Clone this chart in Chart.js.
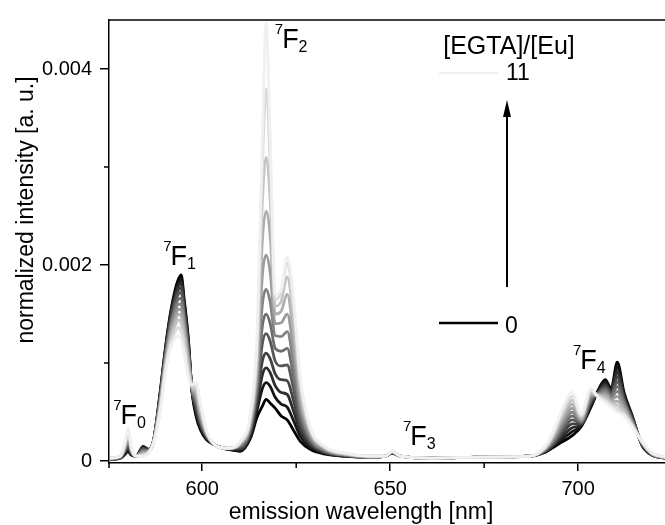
<!DOCTYPE html>
<html>
<head>
<meta charset="utf-8">
<script src="https://cdn.jsdelivr.net/npm/chart.js@4.4.0/dist/chart.umd.min.js"></script>
<style>
  html, body { margin: 0; padding: 0; background: #fff; }
</style>
</head>
<body>
<canvas id="myChart" width="665" height="525"></canvas>
<script>
// emission wavelength [nm]
var wavelength = [575.5, 578.2, 579.5, 580.3, 581.1, 582.4, 584.3, 585.6, 587.0, 588.8,
  590.2, 591.5, 592.8, 593.6, 594.4, 595.2, 596.3, 597.3, 598.4, 599.5,
  601.1, 603.5, 606.9, 610.1, 612.8, 614.6, 616.0, 617.0, 618.1, 619.4,
  621.0, 622.6, 624.2, 626.1, 628.7, 632.7, 638.0, 644.7, 648.7, 650.5,
  652.7, 660.6, 673.9, 687.2, 691.2, 693.4, 696.0, 698.4, 700.8, 703.4,
  705.3, 707.2, 708.8, 710.4, 712.2, 714.4, 717.0, 719.7, 723.2];

// normalized intensity, in units of 1e-4 a.u., one list for each [EGTA]/[Eu]
var ratio0 = [0.2,0.3,0.7,1.0,0.6,0.5,1.5,1.2,2.0,7.0, 11.5,15.0,17.5,18.5,19.0,16.5,12.5,7.0,4.5,3.2,
  2.2,1.6,1.2,1.0,2.3,4.5,5.6,6.3,5.9,5.4, 4.6,4.2,3.2,2.0,1.2,0.7,0.5,0.4,0.5,0.8,
  0.5,0.3,0.4,0.5,0.9,1.4,2.0,2.6,3.5,5.5, 7.2,8.3,7.4,10.1,7.0,4.6,1.6,0.6,0.3];
var ratio1 = [0.2,0.3,0.8,1.2,0.7,0.5,1.4,1.2,2.0,6.9, 11.4,14.8,17.2,18.1,18.6,16.2,12.3,7.1,4.8,3.4,
  2.3,1.6,1.2,1.1,2.5,5.2,7.4,8.0,7.6,6.5, 5.8,5.5,4.2,2.5,1.4,0.8,0.5,0.4,0.5,0.8,
  0.5,0.3,0.4,0.5,0.9,1.5,2.3,3.0,3.6,5.7, 7.1,8.1,7.3,9.6,6.8,4.5,1.6,0.6,0.3];
var ratio2 = [0.2,0.3,0.9,1.4,0.7,0.5,1.4,1.1,2.0,6.8, 11.2,14.6,16.9,17.8,18.2,15.8,12.0,7.1,5.1,3.6,
  2.4,1.6,1.2,1.2,2.7,5.8,8.8,9.5,9.0,7.7, 7.0,6.8,5.2,3.0,1.6,0.8,0.5,0.4,0.5,0.8,
  0.5,0.3,0.4,0.5,1.0,1.6,2.6,3.4,3.7,5.8, 7.0,7.9,7.1,9.1,6.6,4.4,1.7,0.6,0.3];
var ratio3 = [0.2,0.3,1.0,1.6,0.8,0.5,1.3,1.1,2.0,6.6, 11.0,14.3,16.5,17.4,17.7,15.4,11.7,7.2,5.4,3.8,
  2.5,1.6,1.3,1.3,2.9,6.4,10.2,11.0,10.4,8.9, 8.3,8.2,6.3,3.5,1.8,0.9,0.6,0.4,0.5,0.8,
  0.5,0.3,0.4,0.5,1.0,1.7,2.9,3.8,3.8,6.0, 7.0,7.7,7.0,8.6,6.4,4.3,1.7,0.6,0.3];
var ratio4 = [0.2,0.4,1.1,1.8,0.9,0.5,1.2,1.1,2.0,6.5, 10.8,14.0,16.1,17.0,17.2,15.0,11.4,7.2,5.7,4.0,
  2.6,1.6,1.3,1.4,3.1,7.0,12.0,13.0,12.2,10.2, 9.7,9.8,7.5,4.1,2.0,1.0,0.6,0.4,0.5,0.9,
  0.5,0.3,0.4,0.5,1.1,1.8,3.2,4.2,3.9,6.2, 6.9,7.5,6.8,8.1,6.2,4.2,1.8,0.7,0.3];
var ratio5 = [0.2,0.4,1.2,2.0,1.0,0.5,1.1,1.0,1.9,6.3, 10.6,13.7,15.7,16.5,16.6,14.6,11.1,7.3,6.0,4.2,
  2.6,1.6,1.3,1.5,3.3,7.6,13.8,15.0,14.0,11.5, 11.2,11.5,8.8,4.7,2.2,1.0,0.6,0.4,0.5,0.9,
  0.5,0.3,0.4,0.5,1.1,2.0,3.5,4.6,4.0,6.3, 6.9,7.3,6.7,7.6,6.0,4.1,1.8,0.7,0.3];
var ratio6 = [0.3,0.4,1.3,2.2,1.0,0.5,1.0,1.0,1.9,6.1, 10.4,13.4,15.3,16.0,16.0,14.2,10.8,7.4,6.3,4.4,
  2.7,1.6,1.3,1.6,3.5,8.3,16.0,17.5,16.2,12.8, 12.7,13.2,10.2,5.3,2.4,1.1,0.6,0.4,0.5,0.9,
  0.5,0.3,0.4,0.5,1.2,2.1,3.8,5.0,4.1,6.5, 6.8,7.1,6.5,7.1,5.8,4.0,1.8,0.7,0.3];
var ratio7 = [0.3,0.4,1.4,2.4,1.1,0.5,0.9,1.0,1.9,5.9, 10.1,13.1,14.8,15.5,15.4,13.7,10.4,7.4,6.6,4.7,
  2.8,1.6,1.3,1.7,3.7,9.0,19.0,21.0,19.2,14.0, 14.1,15.0,11.6,5.9,2.7,1.2,0.7,0.4,0.5,0.9,
  0.5,0.3,0.4,0.5,1.2,2.3,4.1,5.4,4.2,6.7, 6.8,6.9,6.3,6.6,5.5,3.9,1.9,0.7,0.3];
var ratio8 = [0.3,0.5,1.6,2.7,1.2,0.5,0.8,0.9,1.9,5.7, 9.9,12.7,14.3,15.0,14.8,13.1,10.0,7.5,6.9,5.0,
  2.9,1.6,1.3,1.8,4.0,9.8,22.5,25.5,22.8,15.0, 15.3,17.0,13.2,6.6,2.9,1.3,0.7,0.5,0.5,1.0,
  0.5,0.3,0.4,0.5,1.3,2.5,4.5,5.8,4.3,6.8, 6.7,6.7,6.1,6.1,5.3,3.8,1.9,0.7,0.4];
var ratio9 = [0.3,0.5,1.7,2.9,1.3,0.5,0.7,0.9,1.8,5.5, 9.6,12.3,13.8,14.4,14.1,12.5,9.5,7.6,7.2,5.3,
  3.0,1.6,1.3,1.8,4.2,10.8,26.5,31.0,26.5,15.8, 16.3,18.8,14.8,7.3,3.1,1.3,0.7,0.5,0.5,1.0,
  0.5,0.3,0.4,0.5,1.3,2.6,4.8,6.2,4.5,7.0, 6.7,6.4,5.9,5.7,5.0,3.7,1.9,0.8,0.4];
var ratio10 = [0.3,0.5,1.8,3.1,1.4,0.5,0.6,0.8,1.8,5.2, 9.3,11.9,13.2,13.6,13.3,11.8,9.0,7.7,7.6,5.6,
  3.1,1.6,1.3,1.9,4.5,11.8,30.0,38.0,30.0,16.5, 17.2,20.2,16.2,8.0,3.3,1.4,0.8,0.5,0.5,1.0,
  0.5,0.3,0.4,0.5,1.4,2.8,5.2,6.6,4.6,7.2, 6.6,6.2,5.7,5.3,4.8,3.6,2.0,0.8,0.4];
var ratio11 = [0.3,0.5,2.0,3.4,1.5,0.5,0.5,0.8,1.8,5.0, 9.0,11.5,12.5,12.8,12.4,11.0,8.5,7.8,8.0,6.0,
  3.2,1.6,1.3,2.0,4.8,13.0,33.0,44.7,33.0,17.0, 17.5,20.8,17.0,8.5,3.5,1.5,0.8,0.5,0.5,1.0,
  0.5,0.3,0.4,0.5,1.5,3.0,5.5,7.0,4.8,7.4, 6.5,6.0,5.5,5.0,4.6,3.5,2.0,0.8,0.4];

var ratioNames = ['0', '1', '2', '3', '4', '5', '6', '7', '8', '9', '10', '11'];
var spectra = [ratio0, ratio1, ratio2, ratio3, ratio4, ratio5, ratio6, ratio7, ratio8, ratio9, ratio10, ratio11];

// axis ticks
var xTicks = [600, 650, 700];
var xMinorTicks = [625, 675];
var yTicks = [0, 20, 40];
var yTickLabels = ['0', '0.002', '0.004'];
var yMinorTicks = [10, 30];

// 7F_J band labels (J, wavelength, intensity of label baseline)
var bandJ = ['0', '1', '2', '3', '4'];
var bandX = [576.3, 589.6, 619.3, 653.4, 698.6];
var bandY = [3.8, 20.0, 42.1, 1.6, 9.35];

var FONT = '"Liberation Sans", Arial, sans-serif';

function grayFor(k) {
  var g = Math.round(k * 21.8);
  return 'rgb(' + g + ',' + g + ',' + g + ')';
}

var datasets = [];
for (var k = 0; k < spectra.length; k++) {
  var pts = [];
  for (var i = 0; i < wavelength.length; i++) {
    pts.push({ x: wavelength[i], y: spectra[k][i] });
  }
  datasets.push({
    label: ratioNames[k],
    data: pts,
    borderColor: grayFor(k),
    borderWidth: 2.8,
    pointRadius: 0,
    fill: false,
    cubicInterpolationMode: 'monotone',
    order: spectra.length - 1 - k   // lightest drawn on top
  });
}

// extra drawing: frame top, minor ticks, titles, band labels, legend
var decor = {
  id: 'decor',
  afterDraw: function(chart) {
    var ctx = chart.ctx;
    var a = chart.chartArea;
    var xs = chart.scales.x, ys = chart.scales.y;
    ctx.save();
    ctx.strokeStyle = '#000';
    ctx.fillStyle = '#000';
    ctx.lineWidth = 1.5;

    // top frame line
    ctx.beginPath();
    ctx.moveTo(a.left, a.top);
    ctx.lineTo(a.right, a.top);
    ctx.stroke();

    // minor ticks
    ctx.beginPath();
    xMinorTicks.forEach(function(v) {
      var px = xs.getPixelForValue(v);
      ctx.moveTo(px, a.bottom);
      ctx.lineTo(px, a.bottom + 5);
    });
    ctx.moveTo(a.left, a.bottom);
    ctx.lineTo(a.left, a.bottom + 5);
    yMinorTicks.forEach(function(v) {
      var py = ys.getPixelForValue(v);
      ctx.moveTo(a.left, py);
      ctx.lineTo(a.left - 5, py);
    });
    ctx.stroke();

    // axis titles
    ctx.font = '23px ' + FONT;
    ctx.textAlign = 'center';
    ctx.textBaseline = 'alphabetic';
    ctx.fillText('emission wavelength [nm]', 361, 519);
    ctx.save();
    ctx.translate(33, 210);
    ctx.rotate(-Math.PI / 2);
    ctx.fillText('normalized intensity [a. u.]', 0, 0);
    ctx.restore();

    // 7F_J labels
    ctx.textAlign = 'left';
    for (var j = 0; j < bandJ.length; j++) {
      var lx = xs.getPixelForValue(bandX[j]);
      var ly = ys.getPixelForValue(bandY[j]);
      ctx.font = '15px ' + FONT;
      ctx.fillText('7', lx, ly - 14);
      var w7 = ctx.measureText('7').width;
      ctx.font = '27px ' + FONT;
      ctx.fillText('F', lx + w7 - 1, ly);
      var wF = ctx.measureText('F').width;
      ctx.font = '16px ' + FONT;
      ctx.fillText(bandJ[j], lx + w7 - 1 + wF, ly + 4);
    }

    // legend
    ctx.font = '25px ' + FONT;
    ctx.textAlign = 'center';
    ctx.fillText('[EGTA]/[Eu]', 509, 54);
    ctx.font = '23px ' + FONT;
    ctx.textAlign = 'left';
    ctx.fillText(ratioNames[ratioNames.length - 1], 506, 80);
    ctx.fillText(ratioNames[0], 505, 333);

    ctx.lineWidth = 2;
    ctx.strokeStyle = grayFor(ratioNames.length - 1);
    ctx.beginPath();
    ctx.moveTo(439, 73);
    ctx.lineTo(498, 73);
    ctx.stroke();

    ctx.lineWidth = 2.5;
    ctx.strokeStyle = grayFor(0);
    ctx.beginPath();
    ctx.moveTo(439, 323);
    ctx.lineTo(498, 323);
    ctx.stroke();

    // arrow
    ctx.lineWidth = 2;
    ctx.beginPath();
    ctx.moveTo(507, 287);
    ctx.lineTo(507, 112);
    ctx.stroke();
    ctx.beginPath();
    ctx.moveTo(507, 100);
    ctx.lineTo(511, 117);
    ctx.lineTo(503, 117);
    ctx.closePath();
    ctx.fill();

    ctx.restore();
  }
};

var ctx = document.getElementById('myChart');
var chart = new Chart(ctx, {
  type: 'line',
  data: { datasets: datasets },
  options: {
    responsive: false,
    animation: false,
    devicePixelRatio: 1,
    layout: { padding: { top: 13, right: 0, left: 0, bottom: 0 } },
    plugins: {
      legend: { display: false },
      tooltip: { enabled: false }
    },
    scales: {
      x: {
        type: 'linear',
        min: 575.2,
        max: 723.1,
        afterBuildTicks: function(s) {
          s.ticks = xTicks.map(function(v) { return { value: v }; });
        },
        afterFit: function(s) { s.height = 62; },
        ticks: {
          color: '#000',
          font: { family: FONT, size: 20 },
          padding: 6,
          maxRotation: 0,
          autoSkip: false
        },
        grid: {
          display: true,
          drawOnChartArea: false,
          drawTicks: true,
          tickLength: 8,
          color: '#000',
          lineWidth: 1.5
        },
        border: { display: true, color: '#000', width: 1.5 }
      },
      y: {
        min: -0.2,
        max: 45.0,
        afterBuildTicks: function(s) {
          s.ticks = yTicks.map(function(v) { return { value: v }; });
        },
        afterFit: function(s) { s.width = 109; },
        ticks: {
          color: '#000',
          font: { family: FONT, size: 20 },
          padding: 8,
          callback: function(v) {
            var i = yTicks.indexOf(v);
            return i >= 0 ? yTickLabels[i] : '';
          }
        },
        grid: {
          display: true,
          drawOnChartArea: false,
          drawTicks: true,
          tickLength: 9,
          color: '#000',
          lineWidth: 1.5
        },
        border: { display: true, color: '#000', width: 1.5 }
      }
    }
  },
  plugins: [decor]
});
</script>
</body>
</html>
